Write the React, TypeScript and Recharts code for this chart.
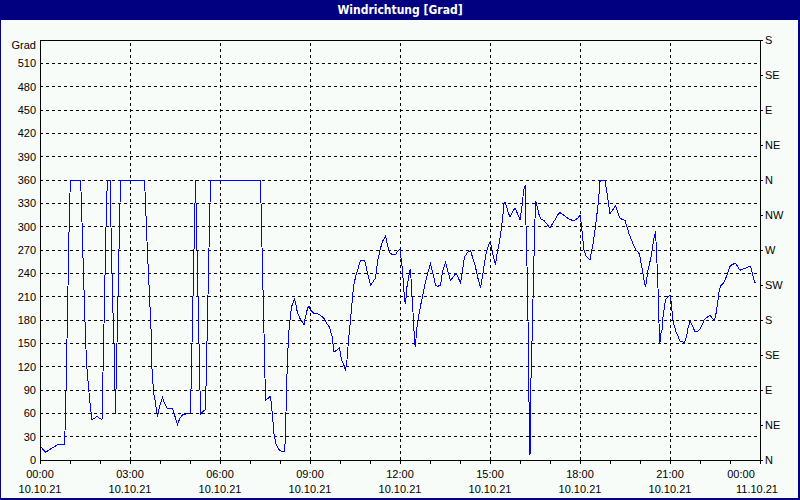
import { LineChart, Line, XAxis, YAxis, CartesianGrid, ReferenceLine } from 'recharts';

// minutes since 10.10.21 00:00
const minutes = [
  0, 11, 23, 36, 49, 51, 53, 55, 57, 59, 61, 81, 83, 85, 90, 93, 97, 100, 104, 108, 114, 120, 124, 125, 127, 129, 131, 133, 135, 140,
  141, 143, 145, 148, 150, 151, 152, 154, 156, 158, 160, 161, 209, 211, 214, 218, 222, 224, 227, 231, 235, 240, 245, 249, 255, 265, 269, 275, 280, 285,
  290, 300, 302, 304, 306, 308, 310, 311, 312, 314, 316, 318, 320, 321, 325, 331, 332, 334, 336, 338, 340, 341, 441, 442, 444, 446, 448, 450, 451, 456,
  461, 463, 465, 468, 472, 477, 483, 489, 491, 493, 495, 497, 500, 503, 506, 509, 512, 515, 520, 528, 531, 535, 538, 541, 547, 555, 561, 568, 572, 579,
  584, 588, 593, 599, 603, 609, 611, 614, 617, 621, 624, 627, 632, 636, 641, 647, 650, 655, 661, 665, 671, 675, 680, 685, 691, 695, 700, 705, 711, 715,
  720, 724, 727, 729, 731, 734, 737, 739, 741, 744, 747, 749, 751, 753, 757, 761, 765, 769, 773, 777, 781, 785, 791, 795, 801, 805, 811, 816, 821, 827,
  832, 837, 841, 845, 849, 853, 857, 861, 865, 870, 875, 879, 881, 885, 889, 893, 899, 902, 905, 908, 911, 913, 917, 921, 925, 928, 931, 935, 940, 945,
  950, 955, 960, 965, 967, 971, 972, 974, 976, 977, 979, 980, 981, 982, 985, 987, 989, 991, 992, 995, 999, 1003, 1008, 1013, 1020, 1025, 1031, 1035, 1040, 1047,
  1053, 1060, 1067, 1072, 1077, 1080, 1083, 1085, 1088, 1092, 1097, 1100, 1103, 1107, 1110, 1113, 1117, 1120, 1122, 1130, 1133, 1137, 1140, 1145, 1151, 1155, 1160, 1165, 1170, 1173,
  1178, 1183, 1187, 1191, 1195, 1199, 1201, 1205, 1208, 1211, 1213, 1216, 1220, 1223, 1225, 1228, 1231, 1232, 1234, 1236, 1237, 1239, 1240, 1242, 1244, 1246, 1248, 1251, 1256, 1260,
  1263, 1265, 1268, 1272, 1276, 1280, 1285, 1289, 1293, 1296, 1300, 1305, 1310, 1315, 1320, 1325, 1329, 1335, 1340, 1343, 1348, 1351, 1355, 1358, 1361, 1366, 1370, 1375, 1379, 1383,
  1387, 1391, 1395, 1400, 1407, 1413, 1419, 1421, 1425, 1428, 1431,
];

const grad = [
  18, 10, 15, 20, 20, 55, 122, 189, 257, 326, 360, 360, 331, 282, 178, 125, 94, 73, 52, 53, 56, 53, 52, 81, 144, 206, 268, 330, 360, 360,
  330, 270, 210, 150, 90, 59, 90, 150, 210, 270, 330, 360, 360, 331, 281, 225, 169, 117, 88, 73, 56, 71, 80, 73, 66, 66, 58, 46, 54, 58,
  59, 60, 90, 150, 210, 270, 330, 360, 330, 270, 210, 150, 90, 59, 62, 65, 94, 152, 212, 272, 330, 360, 360, 330, 274, 219, 163, 105, 77, 79,
  82, 71, 56, 34, 21, 14, 11, 11, 30, 94, 126, 161, 180, 197, 202, 207, 199, 189, 182, 174, 184, 195, 198, 193, 189, 188, 186, 182, 177, 171,
  159, 139, 141, 144, 129, 120, 115, 129, 154, 180, 201, 223, 238, 246, 257, 257, 255, 240, 225, 228, 234, 255, 270, 281, 288, 276, 266, 264, 264, 268,
  271, 249, 227, 206, 201, 223, 234, 241, 246, 210, 180, 152, 145, 167, 184, 198, 210, 223, 234, 244, 252, 242, 225, 223, 225, 242, 254, 242, 231, 236,
  240, 234, 227, 244, 261, 265, 268, 269, 261, 251, 236, 226, 221, 236, 253, 268, 279, 276, 266, 258, 251, 261, 274, 289, 309, 330, 331, 321, 312, 319,
  324, 317, 309, 330, 347, 354, 302, 249, 180, 111, 41, 6, 41, 105, 176, 236, 287, 332, 332, 324, 313, 309, 308, 304, 298, 304, 310, 315, 318, 315,
  312, 309, 308, 309, 312, 315, 302, 287, 270, 262, 259, 257, 268, 281, 296, 311, 334, 358, 360, 360, 347, 330, 317, 321, 327, 319, 311, 309, 308, 302,
  291, 283, 276, 271, 268, 265, 257, 244, 231, 222, 231, 244, 255, 264, 274, 285, 294, 281, 253, 221, 189, 163, 151, 163, 167, 184, 193, 206, 210, 212,
  201, 184, 174, 165, 159, 153, 152, 151, 159, 169, 179, 172, 165, 165, 168, 175, 181, 184, 186, 184, 179, 184, 201, 216, 224, 227, 231, 240, 248, 251,
  252, 253, 249, 244, 246, 247, 249, 249, 240, 231, 227,
];

const hourTicks = [
  0, 60, 120, 180, 240, 300, 360, 420, 480, 540, 600, 660, 720, 780, 840, 900, 960, 1020, 1080, 1140, 1200, 1260, 1320, 1380, 1440,
];
const labelTicks = [0, 180, 360, 540, 720, 900, 1080, 1260, 1440];
const timeLabels = ['00:00', '03:00', '06:00', '09:00', '12:00', '15:00', '18:00', '21:00', '00:00'];
const dateLabels = ['10.10.21', '10.10.21', '10.10.21', '10.10.21', '10.10.21', '10.10.21', '10.10.21', '10.10.21', '11.10.21'];
const vGridTicks = [180, 360, 540, 720, 900, 1080, 1260];

const gradTicks = [0, 30, 60, 90, 120, 150, 180, 210, 240, 270, 300, 330, 360, 390, 420, 450, 480, 510, 540];
const compassTicks = [0, 45, 90, 135, 180, 225, 270, 315, 360, 405, 450, 495, 540];
const compassLabels = ['N', 'NE', 'E', 'SE', 'S', 'SW', 'W', 'NW', 'N', 'NE', 'E', 'SE', 'S'];

const data = minutes.map((t, i) => ({ t, grad: grad[i] }));

const FONT = "'Liberation Sans', Arial, sans-serif";

function XTick(props: any) {
  const { x, y, payload } = props;
  const idx = labelTicks.indexOf(payload.value);
  if (idx < 0) return <g />;
  const last = idx === labelTicks.length - 1;
  return (
    <g>
      <text x={last ? x - 19 : x} y={y + 8} dy="0.355em" textAnchor="middle" fontSize={11} fill="#000" fontFamily={FONT}>
        {timeLabels[idx]}
      </text>
      <text x={last ? x - 3 : x} y={y + 23} dy="0.355em" textAnchor="middle" fontSize={11} fill="#000" fontFamily={FONT}>
        {dateLabels[idx]}
      </text>
    </g>
  );
}

function GradTick(props: any) {
  const { x, y, payload } = props;
  const top = payload.value === 540;
  return (
    <text x={x} y={top ? y + 5 : y} dy="0.355em" textAnchor="end" fontSize={11} fill="#000" fontFamily={FONT}>
      {top ? 'Grad' : payload.value}
    </text>
  );
}

function CompassTick(props: any) {
  const { x, y, payload } = props;
  const idx = compassTicks.indexOf(payload.value);
  return (
    <text x={x} y={y} dy="0.355em" textAnchor="start" fontSize={11} fill="#000" fontFamily={FONT}>
      {idx >= 0 ? compassLabels[idx] : ''}
    </text>
  );
}

export default function App() {
  return (
    <div style={{ position: 'absolute', left: 0, top: 0, width: 800, height: 500, background: '#000080', fontFamily: FONT }}>
      <style>{`
        .wr .recharts-cartesian-grid line,
        .wr .recharts-reference-line line,
        .wr .recharts-cartesian-axis line,
        .wr .recharts-line-curve { shape-rendering: crispEdges; }
      `}</style>
      <div
        style={{
          position: 'absolute', left: 0, top: 0, width: 800, height: 20, lineHeight: '20px', textAlign: 'center',
          color: '#fff', fontWeight: 'bold', fontSize: 12, fontFamily: "'Liberation Sans Narrow', 'DejaVu Sans Condensed', Arial, sans-serif",
        }}
      >
        Windrichtung [Grad]
      </div>
      <div style={{ position: 'absolute', left: 1, top: 20, width: 797, height: 478, background: '#f8fcf8' }} />
      <div className="wr" style={{ position: 'absolute', left: 0, top: 20, width: 797, height: 478 }}>
        <LineChart width={797} height={478} data={data} margin={{ top: 20, right: 0, bottom: 0, left: 0 }}>
          <CartesianGrid yAxisId="left" vertical={false} stroke="#000" strokeDasharray="3 3" />
          <XAxis
            dataKey="t"
            type="number"
            domain={[0, 1440]}
            allowDataOverflow
            ticks={hourTicks}
            interval={0}
            height={38}
            tickSize={4}
            axisLine={{ stroke: '#000' }}
            tickLine={{ stroke: '#000' }}
            tick={<XTick />}
          />
          <YAxis
            yAxisId="left"
            type="number"
            domain={[0, 540]}
            allowDataOverflow
            ticks={gradTicks}
            interval={0}
            width={40}
            tickSize={4}
            tickMargin={0}
            tickLine={false}
            axisLine={{ stroke: '#000' }}
            tick={<GradTick />}
          />
          <YAxis
            yAxisId="right"
            type="number"
            orientation="right"
            domain={[0, 540]}
            allowDataOverflow
            ticks={compassTicks}
            interval={0}
            width={37}
            tickSize={3}
            tickMargin={2}
            axisLine={{ stroke: '#000' }}
            tickLine={{ stroke: '#000' }}
            tick={<CompassTick />}
          />
          {vGridTicks.map((t) => (
            <ReferenceLine key={t} x={t} yAxisId="left" stroke="#000" strokeDasharray="3 3" />
          ))}
          <ReferenceLine y={540} yAxisId="left" stroke="#000" />
          {/* invisible twin so the compass axis gets its scale */}
          <Line
            yAxisId="right"
            type="linear"
            dataKey="grad"
            stroke="transparent"
            dot={false}
            activeDot={false}
            isAnimationActive={false}
          />
          <Line
            yAxisId="left"
            type="linear"
            dataKey="grad"
            stroke="#0000ff"
            strokeWidth={1}
            dot={false}
            isAnimationActive={false}
          />
        </LineChart>
      </div>
    </div>
  );
}
